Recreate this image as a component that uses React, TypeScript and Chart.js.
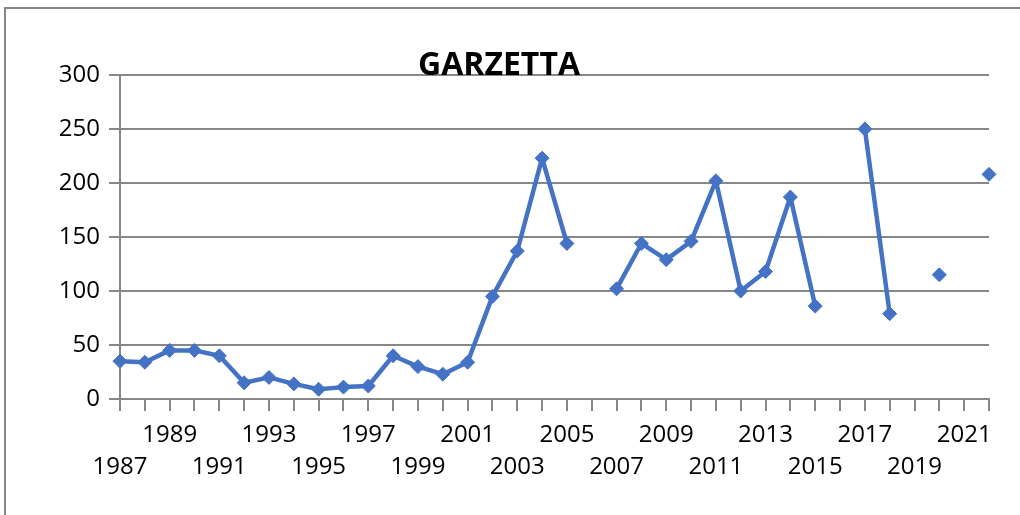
import React, { useEffect, useRef } from "react";
import { Chart, registerables } from "chart.js";

Chart.register(...registerables);

const years: string[] = [
  "1987", "1988", "1989", "1990", "1991", "1992", "1993", "1994", "1995", "1996",
  "1997", "1998", "1999", "2000", "2001", "2002", "2003", "2004", "2005", "2006",
  "2007", "2008", "2009", "2010", "2011", "2012", "2013", "2014", "2015", "2016",
  "2017", "2018", "2019", "2020", "2021", "2022",
];

const garzetta: (number | null)[] = [
  35, 34, 45, 45, 40, 15, 20, 14, 9, 11,
  12, 40, 30, 23, 34, 95, 137, 223, 144, null,
  102, 144, 129, 146, 202, 100, 118, 187, 86, null,
  250, 79, null, 115, null, 208,
];

const yTicks: number[] = [0, 50, 100, 150, 200, 250, 300];

const chartTitle = "GARZETTA";

const GRAY = "#878787";
const BLUE = "#4472C4";
const FONT = "'Open Sans', sans-serif";

const framePlugin = {
  id: "frame",
  beforeDraw(chart: any) {
    const ctx = chart.ctx;
    ctx.save();
    ctx.strokeStyle = GRAY;
    ctx.lineWidth = 2;
    ctx.beginPath();
    ctx.moveTo(5, 515);
    ctx.lineTo(5, 8);
    ctx.lineTo(1020, 8);
    ctx.stroke();
    ctx.restore();
  },
  afterDraw(chart: any) {
    const ctx = chart.ctx;
    ctx.save();
    ctx.fillStyle = "#000";
    ctx.font = "bold 32px " + FONT;
    ctx.textAlign = "center";
    ctx.textBaseline = "alphabetic";
    ctx.fillText(chartTitle, 499, 75);
    ctx.restore();
  },
};

export default function App() {
  const ref = useRef<HTMLCanvasElement>(null);

  useEffect(() => {
    if (!ref.current) return;
    const chart = new Chart(ref.current, {
      type: "line",
      data: {
        labels: years,
        datasets: [
          {
            label: chartTitle,
            data: garzetta,
            borderColor: BLUE,
            backgroundColor: BLUE,
            borderWidth: 4.5,
            borderJoinStyle: "round",
            borderCapStyle: "round",
            pointStyle: "rectRot",
            pointRadius: 7,
            pointBorderWidth: 1,
            pointBackgroundColor: BLUE,
            pointBorderColor: BLUE,
            spanGaps: false,
            tension: 0,
          },
        ],
      },
      options: {
        responsive: false,
        animation: false,
        layout: { padding: { left: 0, top: 75, right: 31, bottom: 0 } },
        plugins: {
          legend: { display: false },
          title: { display: false },
          tooltip: { enabled: false },
        },
        scales: {
          x: {
            type: "category",
            offset: false,
            afterFit(scale: any) {
              scale.height = 116;
            },
            grid: {
              display: true,
              drawOnChartArea: false,
              drawTicks: true,
              tickLength: 12,
              color: GRAY,
              lineWidth: 2,
            },
            border: { display: true, color: GRAY, width: 2 },
            ticks: {
              autoSkip: false,
              maxRotation: 0,
              minRotation: 0,
              padding: 8,
              color: "#000",
              font: { family: FONT, size: 24, lineHeight: "32px" },
              callback: (_v: any, idx: number) => {
                const y = years[idx];
                if (idx % 4 === 0) return ["", y];
                if (idx % 4 === 2) return [y];
                return "";
              },
            },
          },
          y: {
            min: yTicks[0],
            max: yTicks[yTicks.length - 1],
            afterFit(scale: any) {
              scale.width = 120;
            },
            afterBuildTicks(scale: any) {
              scale.ticks = yTicks.map((v) => ({ value: v }));
            },
            grid: {
              color: GRAY,
              lineWidth: 2,
              drawTicks: true,
              tickLength: 11,
            },
            border: { display: true, color: GRAY, width: 2 },
            ticks: {
              padding: 9,
              color: "#000",
              font: { family: FONT, size: 24 },
            },
          },
        },
      },
      plugins: [framePlugin],
    });
    return () => chart.destroy();
  }, []);

  return (
    <div style={{ position: "fixed", left: 0, top: 0, width: 1020, height: 515, background: "#fff" }}>
      <canvas ref={ref} width={1020} height={515} />
    </div>
  );
}
